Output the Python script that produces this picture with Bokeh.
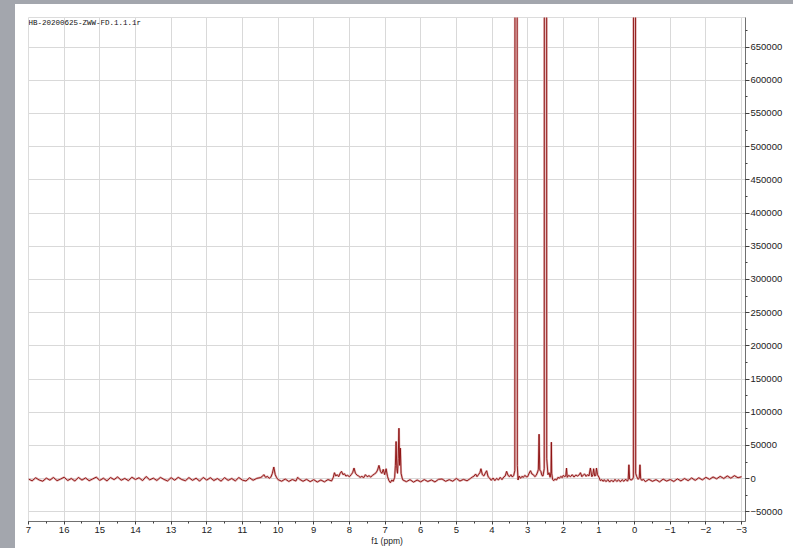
from bokeh.plotting import figure
from bokeh.models import Range1d, SingleIntervalTicker, BasicTickFormatter, Label, Spacer
from bokeh.layouts import column, row
from bokeh.embed import file_html
from bokeh.resources import INLINE

spectrum_title = "HB-20200625-ZWW-FD.1.1.1r"
x_axis_title = "f1 (ppm)"

# chemical shift (ppm) of each traced point, read left to right
ppm = [
    17.0, 16.9, 16.8, 16.7, 16.6, 16.5, 16.4, 16.3, 16.2, 16.1,
    16.0, 15.9, 15.8, 15.7, 15.6, 15.5, 15.4, 15.3, 15.2, 15.1,
    15.0, 14.9, 14.8, 14.7, 14.6, 14.5, 14.4, 14.3, 14.2, 14.1,
    14.0, 13.9, 13.8, 13.7, 13.6, 13.5, 13.4, 13.3, 13.2, 13.1,
    13.0, 12.9, 12.8, 12.7, 12.6, 12.5, 12.4, 12.3, 12.2, 12.1,
    12.0, 11.9, 11.8, 11.7, 11.6, 11.5, 11.4, 11.3, 11.2, 11.1,
    11.0, 10.9, 10.8, 10.7, 10.6,
    10.5, 10.45, 10.4, 10.35, 10.3, 10.25, 10.2, 10.16, 10.12, 10.08,
    10.04, 10.0, 9.9, 9.8, 9.7, 9.6, 9.5, 9.45, 9.4, 9.3,
    9.2, 9.1, 9.0, 8.9, 8.8, 8.7, 8.6, 8.5,
    8.45, 8.42, 8.38, 8.34, 8.3, 8.26, 8.22, 8.18, 8.14, 8.1,
    8.05, 8.0, 7.95, 7.91, 7.87, 7.83, 7.78, 7.74, 7.7, 7.65,
    7.6, 7.55, 7.5, 7.45, 7.4, 7.35, 7.3, 7.25, 7.21, 7.17,
    7.13, 7.09, 7.05, 7.01, 6.97, 6.93, 6.89, 6.85, 6.81, 6.77,
    6.73, 6.71, 6.69, 6.67, 6.65, 6.63, 6.61, 6.59, 6.57, 6.55,
    6.52, 6.5,
    6.4, 6.3, 6.2, 6.1, 6.0, 5.9, 5.8, 5.7, 5.6, 5.5,
    5.4, 5.3, 5.2, 5.1, 5.0, 4.9, 4.8, 4.7, 4.6, 4.55,
    4.5, 4.46, 4.42, 4.38, 4.34, 4.31, 4.27, 4.23, 4.19, 4.15,
    4.11, 4.07, 4.02, 3.97, 3.92, 3.87, 3.82, 3.77, 3.72, 3.67,
    3.63, 3.59, 3.55, 3.51, 3.47, 3.43, 3.39, 3.36, 3.345, 3.305,
    3.29, 3.27, 3.24, 3.2, 3.16, 3.12, 3.08, 3.04, 3.0,
    2.96, 2.92, 2.88, 2.84, 2.8, 2.76, 2.72, 2.7, 2.68, 2.66,
    2.63, 2.6, 2.57, 2.535, 2.525, 2.475, 2.465, 2.43, 2.4, 2.37,
    2.345, 2.335, 2.325, 2.3, 2.27, 2.23, 2.19, 2.15, 2.11, 2.07,
    2.03, 2.0,
    1.96, 1.93, 1.91, 1.89, 1.85, 1.8, 1.75, 1.7, 1.65, 1.6,
    1.55, 1.52, 1.48, 1.44, 1.4, 1.36, 1.32, 1.28, 1.24, 1.2,
    1.17, 1.15, 1.12, 1.09, 1.07, 1.04, 1.0, 0.96, 0.92, 0.88,
    0.85, 0.8, 0.75, 0.7, 0.65, 0.6, 0.55, 0.5, 0.45, 0.4,
    0.35, 0.3, 0.25, 0.2, 0.18, 0.16, 0.14, 0.1, 0.06, 0.035,
    0.025, -0.015, -0.03, -0.06, -0.1, -0.13, -0.15, -0.17, -0.2, -0.25,
    -0.3, -0.4, -0.5, -0.6, -0.7, -0.8, -0.9, -1.0, -1.1, -1.2,
    -1.3, -1.4, -1.5, -1.6, -1.7, -1.8, -1.9, -2.0, -2.1, -2.2,
    -2.3, -2.4, -2.5, -2.6, -2.7, -2.8, -2.9, -3.0,
]

# signal intensity of each traced point (tall solvent/TMS lines run off scale)
intensity = [
    -500, -3200, 1300, -2000, -3800, 800, -2200, 1800, -3000, -600,
    2200, -2800, 300, -3500, 1900, -2100, 1100, -3100, -400, 2300,
    -2600, 700, -3300, 1700, -1400, 2500, -2400, 400, -3000, 2100,
    -1200, 1400, -2900, 3200, -1800, 800, -2700, 1900, -1100, -3400,
    1500, -2300, 2000, -1300, -3100, 1600, -2500, 700, -3600, 1800,
    -2100, 1400, -2800, 200, -3700, 1500, -2600, 300, -3300, 1700,
    -2200, -3500, 1300, -2400, 400,
    1500, 3000, 6000, 2000, 3500, 500, 2500, 8000, 17500, 6000,
    1500, -1500, -3800, -500, -4200, -1200, -3500, 2000, -800, -3900,
    -1000, -4500, -1500, -5000, -2000, -4800, -1300, -3500,
    2000, 9000, 4000, 6000, 3000, 8000, 11000, 6000, 7500, 4000,
    5000, 3000, 6000, 9000, 16000, 8000, 5000, 4000, 2000, 3500,
    1500, 6000, 3000, 4500, 2500, 5000, 7000, 9000, 13000, 20000,
    11000, 8000, 14000, 6000, 15000, 3000, -3000, -6000, -2000, -4000,
    2000, 20000, 56000, 15000, 8000, 30000, 76000, 20000, 46000, 8000,
    1000, -2000,
    -4500, -1500, -5200, -2100, -4800, -1400, -4300, -1900, -4900, -1000,
    -500, -4000, -1500, -3800, 300, -3500, -1100, -3200, 500, 2500,
    4000, 7000, 3000, 6000, 9000, 15000, 6000, 4000, 8000, 12000,
    3000, 1000, -2500, 1000, -3000, 500, -2000, 2000, -1500, 2500,
    4000, 11000, 5000, 3000, 6000, 2500, 5000, 12000, 2800000, 2800000,
    20000, -2000, 4000, 500, 3500, 2000, 5000, 3000, 3000,
    8000, 12000, 7000, 6000, 3000, 5000, 10000, 14000, 67000, 13000,
    11000, 5000, 4000, 15000, 2800000, 2800000, 30000, 6000, 9000, 2000,
    10000, 55000, 8000, -1000, -3000, -500, -2000, 2000, 500, 3500,
    1500, 5000,
    3000, 4000, 16000, 2000, 5000, 3000, 6000, 2500, 5500, 4000,
    6000, 9000, 3000, 5500, 7000, 3500, 6000, 4000, 16000, 3000,
    6000, 15000, 4000, 5000, 16000, 6000, 2000, -3000, -1500, -4000,
    -1500, -4500, -1300, -5000, -2000, -4800, -1000, -4200, -1700, -4600,
    -1500, -4000, -700, -3800, -1000, 21000, -500, -2000, -1000, 2000,
    2600000, 2600000, 8000, 3000, -1000, 1000, 21000, 0, -2500, -1000,
    -4500, -1000, -4000, -1500, -4800, -700, -3600, -1300, -4200, -300,
    -3400, 200, -3000, 1000, -2500, 1300, -1800, 2000, -1000, 2500,
    -200, 3500, 300, 4000, 700, 4500, 1300, 3000,
]

x_label_overrides = {17: "7", -1: "\u22121", -2: "\u22122", -3: "\u22123"}

p = figure(width=778, height=544, output_backend="svg", toolbar_location=None,
           x_range=Range1d(17, -3.11), y_range=Range1d(-64500, 694500),
           y_axis_location="right",
           min_border_left=13, min_border_right=48, min_border_top=13, min_border_bottom=20)
p.background_fill_color = "white"
p.border_fill_color = "white"
p.outline_line_color = "#dcdcdc"

p.xaxis.ticker = SingleIntervalTicker(interval=1, num_minor_ticks=2)
p.yaxis.ticker = SingleIntervalTicker(interval=50000, num_minor_ticks=2)
p.yaxis.formatter = BasicTickFormatter(use_scientific=False)
p.xaxis.major_label_overrides = x_label_overrides

for ax in (p.xaxis[0], p.yaxis[0]):
    ax.axis_line_color = "#707070"
    ax.major_tick_line_color = "#404040"
    ax.minor_tick_line_color = "#404040"
    ax.major_tick_out = 4
    ax.major_tick_in = 0
    ax.minor_tick_out = 2
    ax.minor_tick_in = 0
    ax.major_label_text_font = "Liberation Sans"
    ax.major_label_text_font_size = "9.5px"
    ax.major_label_text_color = "#222222"
p.xaxis.major_tick_out = 3
p.xaxis.major_label_standoff = 2
p.yaxis.major_label_standoff = 1
p.xaxis.axis_label = x_axis_title
p.xaxis.axis_label_standoff = 0
p.xaxis.axis_label_text_font = "Liberation Sans"
p.xaxis.axis_label_text_font_size = "8.5px"
p.xaxis.axis_label_text_font_style = "normal"
p.xaxis.axis_label_text_color = "#222222"

p.xgrid.grid_line_color = "#d9d9d9"
p.ygrid.grid_line_color = "#d9d9d9"

# soft halo underneath, dark trace on top (gives the pink off-scale solvent bands)
p.line(ppm, intensity, line_color="#e2b4b4", line_width=2.2)
p.line(ppm, intensity, line_color="#8a0c0c", line_width=0.9)

p.add_layout(Label(x=17, y=694500, text=spectrum_title, text_baseline="top",
                   x_offset=0, y_offset=-1, text_font="Liberation Mono",
                   text_font_size="7.5px", text_color="#111111"))

frame_gray = "#a3a6ad"
top_bar = Spacer(width=793, height=4, styles={"background-color": frame_gray})
left_bar = Spacer(width=15, height=544, styles={"background-color": frame_gray})
page = column(top_bar, row(left_bar, p, spacing=0), spacing=0)

open("out.html", "w").write(file_html(page, INLINE))
